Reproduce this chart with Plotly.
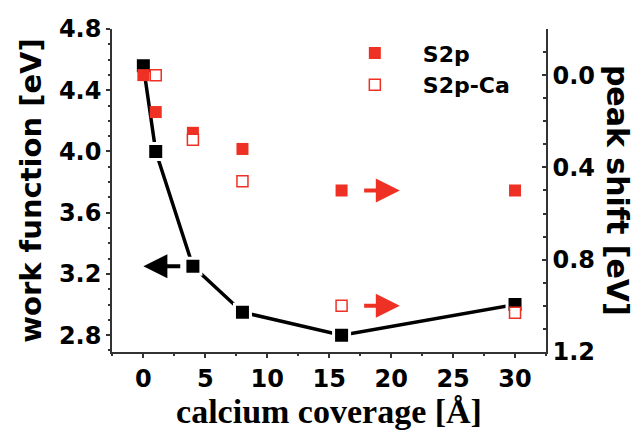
import plotly.graph_objects as go

# ---- data ----
coverage = [0, 1, 4, 8, 16, 30]
work_function = [4.56, 4.00, 3.25, 2.95, 2.80, 3.00]

s2p_coverage = [0, 1, 4, 8, 16, 30]
s2p_shift = [0.0, 0.16, 0.25, 0.32, 0.50, 0.50]

s2pca_coverage = [1, 4, 8, 16, 30]
s2pca_shift = [0.0, 0.28, 0.46, 1.00, 1.03]

# arrows: (tail_x, tip_x, y) – black on left axis, red on right axis
black_arrow = dict(tail=3.1, tip=0.0, y=3.25)
red_arrows = [dict(tail=17.7, tip=20.7, y=0.50), dict(tail=17.7, tip=20.7, y=1.00)]

RED = "#EE3124"
SANS = "DejaVu Sans"
SERIF = "Liberation Serif"
AXC = "#333333"

fig = go.Figure()

fig.add_trace(go.Scatter(
    x=coverage, y=work_function, mode="lines+markers", showlegend=False,
    line=dict(color="black", width=3.5),
    marker=dict(symbol="square", size=16, color="black", line=dict(color="white", width=3)),
    xaxis="x", yaxis="y"))

fig.add_trace(go.Scatter(
    x=s2p_coverage, y=s2p_shift, mode="markers", name="S2p",
    marker=dict(symbol="square", size=12, color=RED, line=dict(width=0)),
    xaxis="x", yaxis="y2"))

fig.add_trace(go.Scatter(
    x=s2pca_coverage, y=s2pca_shift, mode="markers", name="S2p-Ca",
    marker=dict(symbol="square", size=11, color="white", line=dict(color=RED, width=1.5)),
    xaxis="x", yaxis="y2"))

tickfont = dict(family=SANS, size=24, color="black", weight="bold")
xr = [-2.53, 32.5]
yr = [2.69, 4.8]
y2r = [1.2001, -0.2]

common = dict(showline=True, linecolor=AXC, linewidth=1.5, tickcolor=AXC, tickwidth=1.5,
              showgrid=False, zeroline=False, automargin=False)

fig.update_layout(
    width=641, height=431,
    margin=dict(l=112, r=95, t=29, b=79),
    paper_bgcolor="white", plot_bgcolor="white",
    xaxis=dict(range=xr, tick0=0, dtick=5, ticks="outside", ticklen=4,
               minor=dict(dtick=2.5, ticks="outside", ticklen=2, tickcolor=AXC, tickwidth=1.5),
               tickfont=tickfont, ticklabelstandoff=0,
               title=dict(text="calcium coverage [Å]", standoff=0,
                          font=dict(family=SERIF, size=34, color="black", weight="bold")),
               mirror=False, **common),
    xaxis2=dict(range=xr, overlaying="x", side="bottom", anchor="y", tick0=0, dtick=5,
                ticks="inside", ticklen=4, showticklabels=False, mirror="ticks",
                minor=dict(dtick=2.5, ticks="inside", ticklen=3, tickcolor=AXC, tickwidth=1.5),
                **common),
    yaxis=dict(range=yr, tick0=2.8, dtick=0.4, ticks="outside", ticklen=4, tickformat=".1f",
               minor=dict(dtick=0.1, ticks="outside", ticklen=2, tickcolor=AXC, tickwidth=1.5),
               tickfont=tickfont,
               title=dict(text="work function [eV]", standoff=9,
                          font=dict(family=SANS, size=29, color="black", weight="bold")),
               mirror=False, **common),
    yaxis3=dict(range=yr, overlaying="y", side="left", anchor="x", tick0=2.8, dtick=0.4,
                ticks="inside", ticklen=4, showticklabels=False,
                minor=dict(dtick=0.1, ticks="inside", ticklen=3, tickcolor=AXC, tickwidth=1.5),
                **common),
    yaxis2=dict(range=y2r, overlaying="y", side="right", anchor="x", tick0=0, dtick=0.4,
                ticks="inside", ticklen=4, tickformat=".1f",
                minor=dict(dtick=0.1, ticks="inside", ticklen=3, tickcolor=AXC, tickwidth=1.5),
                tickfont=tickfont, **common),
    legend=dict(x=0.495, y=0.99, xanchor="left", yanchor="top", itemwidth=86,
                bgcolor="rgba(0,0,0,0)", font=dict(family=SANS, size=22, color="black", weight="bold"),
                tracegroupgap=0),
    showlegend=True,
)

annotations = [
    dict(x=black_arrow["tip"], y=black_arrow["y"], ax=black_arrow["tail"], ay=black_arrow["y"],
         xref="x", yref="y", axref="x", ayref="y", text="", showarrow=True,
         arrowhead=2, arrowsize=1.2, arrowwidth=4, arrowcolor="black"),
]
for a in red_arrows:
    annotations.append(dict(x=a["tip"], y=a["y"], ax=a["tail"], ay=a["y"],
                            xref="x", yref="y2", axref="x", ayref="y2", text="", showarrow=True,
                            arrowhead=2, arrowsize=1.2, arrowwidth=4, arrowcolor=RED))
annotations.append(dict(text="peak shift [eV]", textangle=90, xref="paper", yref="paper",
                        x=1.165, y=0.5, xanchor="center", yanchor="middle", showarrow=False,
                        font=dict(family=SANS, size=30, color="black", weight="bold")))
fig.update_layout(annotations=annotations)

fig.write_html("out.html")
